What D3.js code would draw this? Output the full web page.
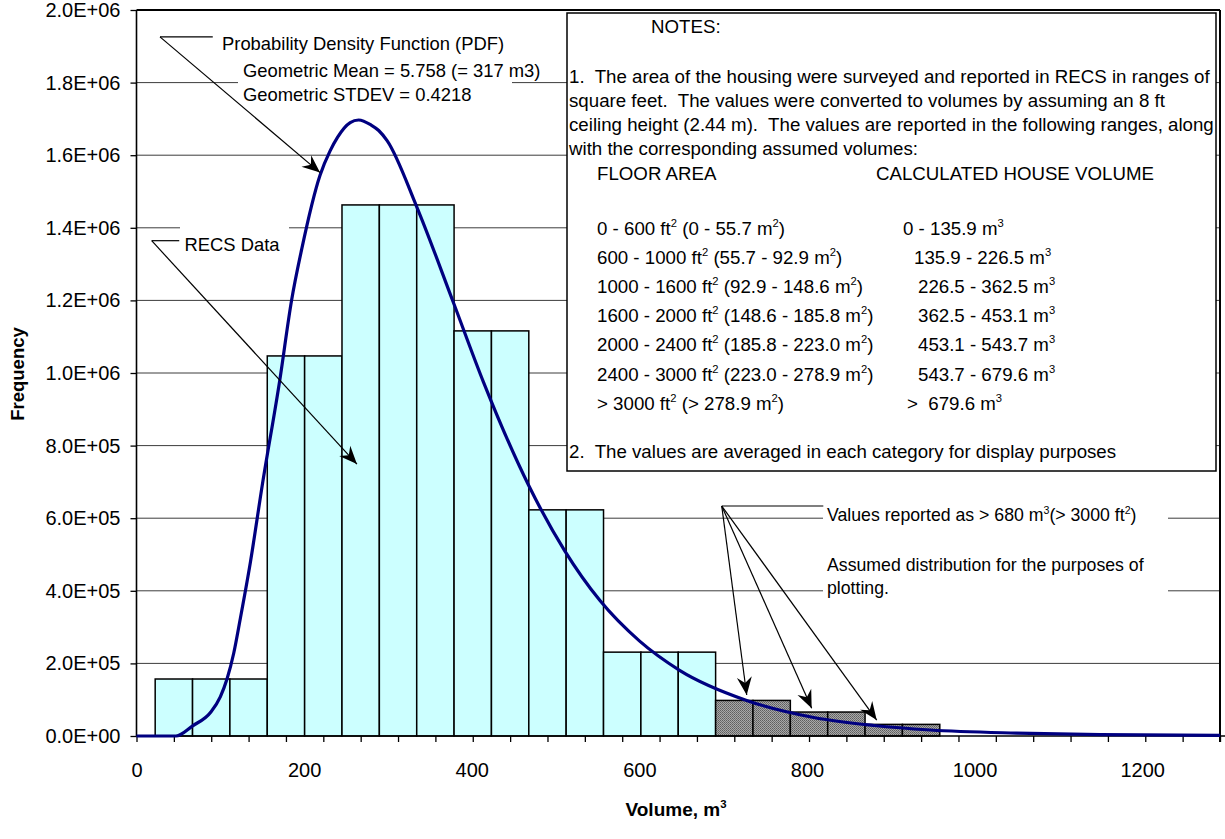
<!DOCTYPE html>
<html><head><meta charset="utf-8">
<script src="https://cdn.jsdelivr.net/npm/d3@7"></script>
<style>
body{margin:0;background:#fff;}
svg{display:block;font-family:Arial,"Liberation Sans",sans-serif;}
text{white-space:pre;}
</style></head><body><svg id="chart" width="1225" height="839"></svg>
<script>
// ---------------- DATA ----------------
const binWidth = 44.58;            // m3, width of each histogram category
const binCount = 29;               // categories along the x axis
// RECS data (averaged in each category), frequency per bin
const recsFreq = [157e3,157e3,157e3,1047e3,1047e3,1463e3,1463e3,1463e3,1116e3,1116e3,623e3,623e3,231e3,231e3,231e3];
// Assumed distribution of values reported as > 680 m3
const assumedFreq = [98e3,98e3,66e3,66e3,32e3,32e3];
// Probability density function (scaled)
const pdfVolume = [0,47,67,89,100,108,116,124,136,150,171,185,197,219,231,240,255,265,280,289,299,334,378,414,468,511,553,600,648,728,808,880,947,1050,1150,1293];
const pdfFreq   = [0,0,28e3,67e3,108e3,157e3,228e3,325e3,480e3,690e3,981e3,1200e3,1340e3,1545e3,1612e3,1650e3,1690e3,1697e3,1683e3,1668e3,1640e3,1460e3,1195e3,975e3,690e3,510e3,373e3,262e3,181e3,98e3,51e3,29e3,16.5e3,8e3,4e3,1.5e3];
const yTicks = [0,2e5,4e5,6e5,8e5,1e6,1.2e6,1.4e6,1.6e6,1.8e6,2e6];
const yTickLabels = ["0.0E+00","2.0E+05","4.0E+05","6.0E+05","8.0E+05","1.0E+06","1.2E+06","1.4E+06","1.6E+06","1.8E+06","2.0E+06"];
const xLabelTicks = [0,200,400,600,800,1000,1200];
const xTitle = "Volume, m^3";
const yTitle = "Frequency";
const notesHeader = "NOTES:";
const note1Lines = [
  "1.  The area of the housing were surveyed and reported in RECS in ranges of",
  "square feet.  The values were converted to volumes by assuming an 8 ft",
  "ceiling height (2.44 m).  The values are reported in the following ranges, along",
  "with the corresponding assumed volumes:"
];
const tableHeader = ["FLOOR AREA","CALCULATED HOUSE VOLUME"];
const floorAreaRanges = [
  "0 - 600 ft^2 (0 - 55.7 m^2)",
  "600 - 1000 ft^2 (55.7 - 92.9 m^2)",
  "1000 - 1600 ft^2 (92.9 - 148.6 m^2)",
  "1600 - 2000 ft^2 (148.6 - 185.8 m^2)",
  "2000 - 2400 ft^2 (185.8 - 223.0 m^2)",
  "2400 - 3000 ft^2 (223.0 - 278.9 m^2)",
  "> 3000 ft^2 (> 278.9 m^2)"
];
const houseVolumeRanges = ["0 - 135.9 m^3","135.9 - 226.5 m^3","226.5 - 362.5 m^3","362.5 - 453.1 m^3","453.1 - 543.7 m^3","543.7 - 679.6 m^3",">  679.6 m^3"];
const note2 = "2.  The values are averaged in each category for display purposes";
const pdfLabel = ["Probability Density Function (PDF)","Geometric Mean = 5.758 (= 317 m3)","Geometric STDEV = 0.4218"];
const recsLabel = "RECS Data";
const assumedLabel = ["Values reported as > 680 m^3(> 3000 ft^2)","Assumed distribution for the purposes of","plotting."];

// ---------------- LAYOUT ----------------
const W = 1225, H = 839;
const plot = {left:136.5, right:1220, top:10, bottom:736};
const svg = d3.select('#chart');
svg.append('rect').attr('width',W).attr('height',H).attr('fill','#fff');

const x = d3.scaleLinear().domain([0, binCount*binWidth]).range([plot.left, plot.right]);
const y = d3.scaleLinear().domain([0, 2e6]).range([plot.bottom, plot.top]);

const defs = svg.append('defs');
const pat = defs.append('pattern').attr('id','grayHatch').attr('width',2).attr('height',2).attr('patternUnits','userSpaceOnUse');
pat.append('rect').attr('width',2).attr('height',2).attr('fill','#a8a8a8');
pat.append('rect').attr('width',1).attr('height',1).attr('fill','#5e5e5e');
pat.append('rect').attr('x',1).attr('y',1).attr('width',1).attr('height',1).attr('fill','#707070');
defs.append('marker').attr('id','arrow').attr('viewBox','-20 -9 22 18')
  .attr('refX',0).attr('refY',0).attr('markerWidth',22).attr('markerHeight',18)
  .attr('markerUnits','userSpaceOnUse').attr('orient','auto')
  .append('path').attr('d','M0,0 L-18,-7.5 L-12,0 L-18,7.5 Z').attr('fill','#000');

// rich text with ^n superscripts
function rich(sel, str, size){
  const parts = str.split(/\^(\d)/);
  let raised = false;
  parts.forEach((p,i)=>{
    if(i%2===1){
      sel.append('tspan').attr('font-size', size*0.6).attr('dy', -size*0.42).text(p);
      raised = true;
    } else if(p.length){
      const t = sel.append('tspan').text(p);
      if(raised){ t.attr('dy', size*0.42); raised=false; }
    }
  });
  return sel;
}
function label(g, str, x0, yc, size, opts={}){
  const t = g.append('text').attr('x',x0).attr('y',yc).attr('dy','0.35em')
    .attr('font-size',size).attr('fill','#000');
  if(opts.anchor) t.attr('text-anchor',opts.anchor);
  if(opts.weight) t.attr('font-weight',opts.weight);
  rich(t, str, size);
  return t;
}

// gridlines
svg.append('g').selectAll('line').data(yTicks.filter(d=>d>0 && d<2e6)).join('line')
  .attr('x1',plot.left).attr('x2',plot.right).attr('y1',d=>y(d)).attr('y2',d=>y(d))
  .attr('stroke','#3c3c3c').attr('stroke-width',1);

// bars
const bars = recsFreq.map((v,i)=>({idx:i, v, kind:'recs'}))
  .concat(assumedFreq.map((v,j)=>({idx:recsFreq.length+j, v, kind:'assumed'})));
svg.append('g').selectAll('rect').data(bars).join('rect')
  .attr('x',d=>x((d.idx+0.5)*binWidth))
  .attr('width',d=>x((d.idx+1.5)*binWidth)-x((d.idx+0.5)*binWidth))
  .attr('y',d=>y(d.v)).attr('height',d=>y(0)-y(d.v))
  .attr('fill',d=>d.kind==='recs'?'#ccffff':'url(#grayHatch)')
  .attr('stroke','#000').attr('stroke-width',1.5);

// axes
const yAxis = svg.append('g').attr('transform',`translate(${plot.left},0)`)
  .call(d3.axisLeft(y).tickValues(yTicks).tickFormat((d,i)=>yTickLabels[i]).tickSize(6).tickPadding(10));
yAxis.select('.domain').remove();
yAxis.selectAll('text').attr('font-size',20).attr('font-family','Arial, "Liberation Sans", sans-serif').attr('fill','#000');
yAxis.selectAll('line').attr('stroke','#000').attr('stroke-width',1.3);

const catTicks = d3.range(binCount+1).map(i=>i*binWidth);
const xAxisTicks = svg.append('g').attr('transform',`translate(0,${plot.bottom})`)
  .call(d3.axisBottom(x).tickValues(catTicks).tickFormat('').tickSize(6));
xAxisTicks.select('.domain').remove();
xAxisTicks.selectAll('line').attr('stroke','#000').attr('stroke-width',1.3);

const xAxisLabels = svg.append('g').attr('transform',`translate(0,${plot.bottom})`)
  .call(d3.axisBottom(x).tickValues(xLabelTicks).tickFormat(d3.format('d')).tickSize(0).tickPadding(27));
xAxisLabels.select('.domain').remove();
xAxisLabels.selectAll('text').attr('font-size',20).attr('font-family','Arial, "Liberation Sans", sans-serif').attr('fill','#000');

// frame
const frame = svg.append('g').attr('stroke','#000').attr('fill','none');
frame.append('line').attr('x1',plot.left).attr('x2',plot.right).attr('y1',plot.top).attr('y2',plot.top).attr('stroke-width',2);
frame.append('line').attr('x1',plot.right).attr('x2',plot.right).attr('y1',plot.top).attr('y2',plot.bottom+6).attr('stroke-width',2);
frame.append('line').attr('x1',plot.left).attr('x2',plot.left).attr('y1',plot.top).attr('y2',plot.bottom).attr('stroke-width',1.6);
frame.append('line').attr('x1',plot.left).attr('x2',plot.right+5).attr('y1',plot.bottom).attr('y2',plot.bottom).attr('stroke-width',1.6);

// PDF curve
const pdfPts = pdfVolume.map((v,i)=>[v,pdfFreq[i]]);
svg.append('path').datum(pdfPts)
  .attr('d', d3.line().x(d=>x(d[0])).y(d=>y(d[1])).curve(d3.curveMonotoneX))
  .attr('fill','none').attr('stroke','#000080').attr('stroke-width',3.2).attr('stroke-linejoin','round');

// NOTES box
const notes = svg.append('g');
notes.append('rect').attr('x',567).attr('y',13).attr('width',649).attr('height',458)
  .attr('fill','#fff').attr('stroke','#000').attr('stroke-width',1.5);
const NF = 18.7;
label(notes, notesHeader, 651, 26, NF);
note1Lines.forEach((s,i)=>label(notes, s, 569, 76 + i*24, NF));
label(notes, tableHeader[0], 597, 173, NF);
label(notes, tableHeader[1], 876, 173, NF);
const volX = [903, 914, 918, 918, 918, 918, 907];
floorAreaRanges.forEach((s,i)=>{
  label(notes, s, 597, 228 + i*29.2, NF);
  label(notes, houseVolumeRanges[i], volX[i], 228 + i*29.2, NF);
});
label(notes, note2, 569, 451, NF);

// annotations
const ann = svg.append('g');
const AF = 18.4;
// PDF callout
ann.append('rect').attr('x',214).attr('y',30).attr('width',298).attr('height',28).attr('fill','#fff');
ann.append('rect').attr('x',238).attr('y',58).attr('width',274).attr('height',50).attr('fill','#fff');
label(ann, pdfLabel[0], 222, 44, AF);
label(ann, pdfLabel[1], 243, 71, AF);
label(ann, pdfLabel[2], 243, 95, AF);
// RECS callout
ann.append('rect').attr('x',180).attr('y',225).attr('width',109).attr('height',36).attr('fill','#fff');
label(ann, recsLabel, 184.5, 245, AF);
// Assumed callout
const BF = 17.7;
ann.append('rect').attr('x',823).attr('y',503).attr('width',345).attr('height',100).attr('fill','#fff');
label(ann, assumedLabel[0], 827, 515, BF);
label(ann, assumedLabel[1], 827, 565, BF);
label(ann, assumedLabel[2], 827, 588, BF);

// leader lines (data coordinates)
function leader(corner, endH, tips){
  ann.append('line').attr('x1',x(corner[0])).attr('y1',y(corner[1])).attr('x2',x(endH)).attr('y2',y(corner[1]))
    .attr('stroke','#000').attr('stroke-width',1.2);
  tips.forEach(t=>{
    ann.append('line').attr('x1',x(corner[0])).attr('y1',y(corner[1])).attr('x2',x(t[0])).attr('y2',y(t[1]))
      .attr('stroke','#000').attr('stroke-width',1.2).attr('marker-end','url(#arrow)');
  });
}
leader([28, 1.926e6], 91, [[219, 1.552e6]]);
leader([18.1, 1.3645e6], 51, [[263, 7.49e5]]);
leader([698.3, 6.336e5], 819.5, [[728.1, 1.13e5],[805.6, 7.63e4],[883.2, 4.4e4]]);

// axis titles
label(svg, xTitle, 676, 809, 19, {anchor:'middle', weight:'bold'});
svg.append('text').attr('transform','translate(18,374) rotate(-90)').attr('text-anchor','middle')
  .attr('dy','0.35em').attr('font-size',18.5).attr('font-weight','bold').text(yTitle);
</script></body></html>
